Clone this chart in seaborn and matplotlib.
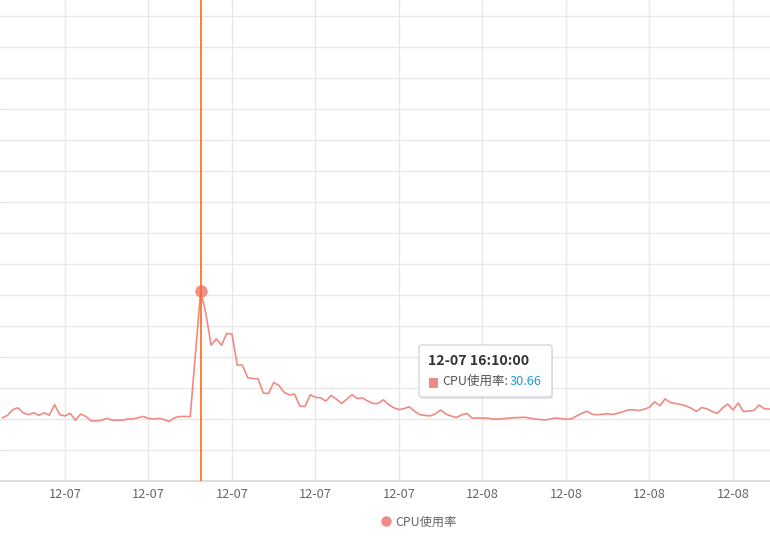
import numpy as np
import pandas as pd
import matplotlib
matplotlib.use("Agg")
import matplotlib.pyplot as plt
from matplotlib.lines import Line2D
from matplotlib.patches import FancyBboxPatch, Rectangle
import seaborn as sns

# ---------------- data ----------------
series_name = "CPU使用率"
cpu_usage = [
    10.2, 10.6, 11.5, 11.8, 11.0, 10.7, 11.0, 10.6, 11.0, 10.6, 12.3, 10.7, 10.5,
    10.9, 9.8, 10.8, 10.4, 9.7, 9.7, 9.8, 10.1, 9.8, 9.8, 9.8, 10.0, 10.0, 10.2,
    10.4, 10.1, 10.0, 10.1, 9.9, 9.6, 10.2, 10.4, 10.4, 10.4, 20.5, 30.66,
    27.0, 21.9, 22.9, 21.9, 23.8, 23.7, 18.7, 18.7, 16.7, 16.5, 16.5, 14.2, 14.1,
    15.9, 15.4, 14.3, 13.9, 14.0, 12.1, 12.0, 13.9, 13.5, 13.4, 12.9, 13.8, 13.2,
    12.5, 13.2, 13.9, 13.3, 13.4, 12.9, 12.5, 12.5, 13.1,
    12.34, 11.82, 11.52, 11.68, 11.98, 11.23, 10.69, 10.58, 10.50, 10.84, 11.45,
    10.8, 10.48, 10.24, 10.65, 10.89, 10.16, 10.16, 10.15, 10.13, 10.0, 9.97,
    10.05, 10.15, 10.19, 10.24, 10.29, 10.16, 10.0, 9.92, 9.84, 10.0, 10.16,
    10.06, 9.97, 10.0, 10.48, 10.89, 11.26, 10.77, 10.68, 10.77, 10.84, 10.73,
    10.94, 11.19, 11.48, 11.48, 11.37, 11.58, 11.9, 12.77, 12.13, 13.26, 12.65,
    12.5, 12.34, 12.11, 11.74, 11.21, 11.85, 11.65, 11.21, 10.89, 11.77, 12.42,
    11.45, 12.58, 11.21, 11.29, 11.37, 12.26, 11.65, 11.61,
]
tick_labels = ["12-07", "12-07", "12-07", "12-07", "12-07",
               "12-08", "12-08", "12-08", "12-08"]
highlight_index = 38
tooltip_time = "12-07 16:10:00"
tooltip_value = "30.66"
y_grid_values = [5, 10, 15, 20, 25, 30, 35, 40, 45, 50, 55, 60, 65, 70, 75]

df = pd.DataFrame({"idx": np.arange(len(cpu_usage)), "value": cpu_usage})

# ---------------- style ----------------
sns.set_style("white")
plt.rcParams["font.family"] = ["Noto Sans CJK SC", "DejaVu Sans"]

LINE_C = "#EF8A84"
ORANGE = "#FF6A13"
GRID_C = "#E8E8E8"
TXT_C = "#666666"

W, H = 770, 556
fig = plt.figure(figsize=(W / 100, H / 100), dpi=100)
ax = fig.add_axes([0, (H - 481) / H, 1, 481 / H])

def fx(x):
    return x / W

def fy(y):
    return 1 - y / H

sns.lineplot(data=df, x="idx", y="value", ax=ax, color=LINE_C,
             linewidth=1.2, zorder=3, legend=False)

ax.scatter([highlight_index], [cpu_usage[highlight_index]], s=80,
           color=LINE_C, alpha=0.95, zorder=4, linewidths=0)
ax.axvline(highlight_index, color=ORANGE, linewidth=1.2, zorder=5)

ax.set_ylim(0, 481 / 31 * 5)
ax.set_xlim(-0.45, -0.45 + W / (83.5 / 16))
ax.set_xlabel("")
ax.set_ylabel("")

tick_pos = [12 + 16 * k for k in range(len(tick_labels))]
ax.set_xticks(tick_pos)
ax.set_xticklabels(tick_labels, fontsize=9.2, color=TXT_C)
ax.set_yticks(y_grid_values)
ax.set_yticklabels([])
ax.tick_params(axis="both", length=0)
ax.tick_params(axis="x", pad=5)
ax.grid(True, color=GRID_C, linewidth=1.0, zorder=0)

for s in ["left", "right", "top"]:
    ax.spines[s].set_visible(False)
ax.spines["bottom"].set_color("#DDDDDD")
ax.spines["bottom"].set_linewidth(1.4)

# ---------------- tooltip ----------------
bx0, by0, bx1, by1 = 419, 345, 552, 397
shadow = FancyBboxPatch((fx(bx0 + 1), fy(by1 + 2)), fx(bx1 - bx0), (by1 - by0) / H,
                        boxstyle="round,pad=0,rounding_size=0.004",
                        transform=fig.transFigure, facecolor="#000000",
                        alpha=0.10, edgecolor="none", zorder=9)
fig.add_artist(shadow)
box = FancyBboxPatch((fx(bx0), fy(by1)), fx(bx1 - bx0), (by1 - by0) / H,
                     boxstyle="round,pad=0,rounding_size=0.004",
                     transform=fig.transFigure, facecolor="white",
                     edgecolor="#D3D7DD", linewidth=1.0, zorder=10)
fig.add_artist(box)
fig.text(fx(428), fy(361), tooltip_time, fontsize=10.2, fontweight="bold",
         color="#333333", ha="left", va="center", zorder=11)
fig.add_artist(Rectangle((fx(429), fy(387.5)), fx(9), 9.5 / H,
                         transform=fig.transFigure, facecolor=LINE_C,
                         edgecolor="none", zorder=11))
fig.text(fx(442), fy(381.5), series_name + ":", fontsize=9.0,
         color="#555555", ha="left", va="center", zorder=11)
fig.text(fx(510), fy(381.5), tooltip_value, fontsize=9.2,
         color="#1E9BD7", ha="left", va="center", zorder=11)

# ---------------- legend ----------------
handle = Line2D([], [], marker="o", linestyle="", color=LINE_C, markersize=7.5,
                markeredgewidth=0)
fig.legend(handles=[handle], labels=[series_name], loc="center",
           bbox_to_anchor=(fx(418), fy(522)), frameon=False,
           fontsize=8.8, labelcolor=TXT_C, handletextpad=0.25,
           handlelength=1.0, borderpad=0)

fig.savefig("out.png", dpi=100)
